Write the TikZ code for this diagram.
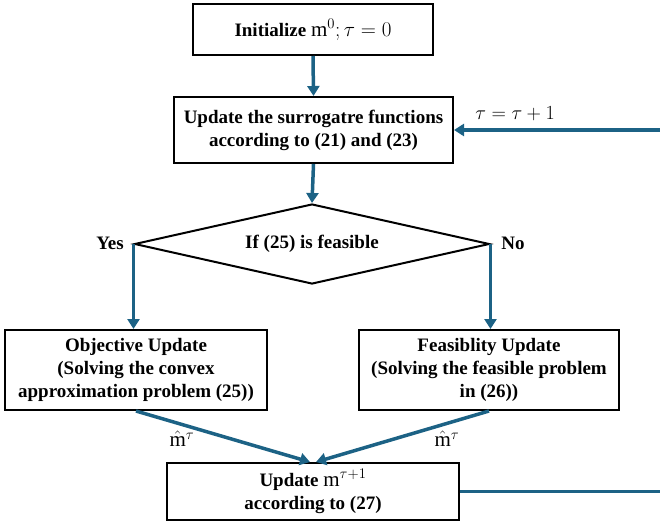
\documentclass[tikz,border=0pt]{standalone}
\usepackage{fix-cm}
\usepackage{fontspec}
\setmainfont{Liberation Serif}
\usetikzlibrary{shapes.geometric,arrows.meta,calc}
\definecolor{flow}{RGB}{28,98,133}
\newcommand{\bigmath}[1]{{\fontsize{21}{23}\selectfont$#1$}}
\begin{document}
\begin{tikzpicture}[x=1pt,y=-1pt,
  box/.style={draw=black, line width=2pt, align=center, inner sep=0pt,
    font=\fontsize{19}{23}\selectfont\bfseries},
  flowline/.style={draw=flow, line width=3.5pt},
  arr/.style={flowline, -{Triangle[length=10pt,width=12pt]}},
  lbl/.style={font=\fontsize{19}{23}\selectfont\bfseries, inner sep=0pt},
  mlbl/.style={font=\fontsize{20}{23}\selectfont, inner sep=0pt}]
\useasboundingbox (0,0) rectangle (660,522);
\node[box, minimum width=240pt, minimum height=51pt] (init) at (313,29.5)
  {Initialize \bigmath{\mathrm{m}^0;\tau=0}};
\node[box, minimum width=279pt, minimum height=66pt] (upd) at (313.5,130)
  {Update the surrogatre functions\\according to (21) and (23)};
\node[draw=black, line width=2pt, diamond, minimum width=355pt, minimum height=80pt,
  aspect=4.4, inner sep=0pt, font=\fontsize{19}{23}\selectfont\bfseries] (dec) at (312,244)
  {If (25) is feasible};
\node[box, minimum width=262pt, minimum height=80pt] (obj) at (136,370)
  {Objective Update\\(Solving the convex\\approximation problem (25))};
\node[box, minimum width=260pt, minimum height=80pt] (feas) at (489,370)
  {Feasiblity Update\\(Solving the feasible problem\\in (26))};
\node[box, minimum width=292pt, minimum height=57pt] (bot) at (313,491.5)
  {Update \bigmath{\mathrm{m}^{\tau+1}}\\according to (27)};
\coordinate (rb) at (660,491.5);
\coordinate (rt) at (660,130);
\node[lbl] (yes) at (110,243) {Yes};
\node[lbl] (no) at (513,243) {No};
\node[mlbl] (tl) at (515,114) {$\tau=\tau+1$};
\node[mlbl] (ml) at (182,439) {\bigmath{\hat{\mathrm{m}}^{\tau}}};
\node[mlbl] (mr) at (447,439) {\bigmath{\hat{\mathrm{m}}^{\tau}}};
\draw[arr] (init.south) -- (upd.north);
\draw[arr] (upd.south) -- (dec.north);
\draw[arr] (dec.west) -- (dec.west |- obj.north);
\draw[arr] (dec.east) -- (dec.east |- feas.north);
\draw[arr] (obj.south) -- ($(bot.north)+(-3,0)$);
\draw[arr] (feas.south) -- ($(bot.north)+(3,0)$);
\draw[flowline] (bot.east) -- (rb);
\draw[arr] (rt) -- (upd.east);
\end{tikzpicture}
\end{document}
